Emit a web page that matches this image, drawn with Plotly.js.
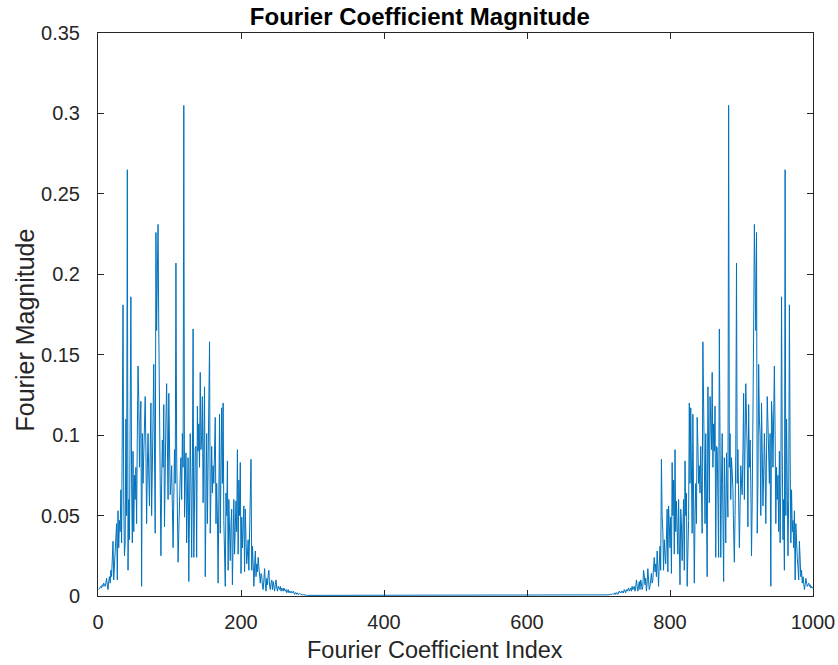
<!DOCTYPE html>
<html>
<head>
<meta charset="utf-8">
<script src="https://cdn.plot.ly/plotly-3.0.1.min.js"></script>
<style>
html,body{margin:0;padding:0;background:#fff;}
#chart{width:838px;height:665px;}
</style>
</head>
<body>
<div id="chart"></div>
<script>
// Magnitudes of the first coefficients (index 1..290)
var leftMag = [
0.004,0.005,0.005,0.006,0.005,0.007,0.006,0.008,0.007,0.006,
0.008,0.011,0.007,0.004,0.009,0.012,0.008,0.016,0.012,0.023,
0.034,0.010,0.018,0.024,0.030,0.045,0.010,0.053,0.030,0.047,
0.040,0.066,0.033,0.090,0.181,0.060,0.025,0.033,0.110,0.050,
0.265,0.016,0.060,0.035,0.090,0.186,0.070,0.033,0.090,0.040,
0.075,0.060,0.080,0.045,0.100,0.143,0.122,0.080,0.110,0.121,
0.006,0.101,0.070,0.085,0.107,0.124,0.090,0.045,0.080,0.101,
0.075,0.056,0.090,0.120,0.050,0.100,0.110,0.144,0.070,0.039,
0.226,0.165,0.200,0.231,0.166,0.097,0.060,0.025,0.070,0.097,
0.080,0.119,0.043,0.090,0.110,0.132,0.104,0.060,0.126,0.090,
0.063,0.070,0.081,0.055,0.030,0.060,0.091,0.070,0.207,0.089,
0.050,0.021,0.040,0.067,0.075,0.086,0.060,0.101,0.080,0.305,
0.049,0.070,0.089,0.033,0.060,0.086,0.009,0.050,0.101,0.070,
0.024,0.080,0.166,0.024,0.060,0.092,0.093,0.024,0.118,0.090,
0.107,0.080,0.139,0.091,0.100,0.124,0.058,0.090,0.130,0.012,
0.070,0.101,0.045,0.080,0.120,0.158,0.039,0.075,0.093,0.064,
0.081,0.070,0.095,0.111,0.045,0.070,0.050,0.008,0.060,0.113,
0.039,0.080,0.117,0.070,0.120,0.047,0.030,0.006,0.064,0.050,
0.084,0.016,0.060,0.040,0.022,0.045,0.054,0.007,0.035,0.060,
0.026,0.045,0.059,0.040,0.091,0.026,0.072,0.050,0.083,0.014,
0.049,0.030,0.045,0.056,0.015,0.054,0.035,0.020,0.026,0.035,
0.016,0.040,0.050,0.085,0.016,0.031,0.020,0.006,0.018,0.028,
0.012,0.020,0.015,0.024,0.018,0.010,0.008,0.014,0.013,0.006,
0.004,0.010,0.017,0.008,0.003,0.011,0.007,0.013,0.016,0.006,
0.004,0.008,0.010,0.004,0.009,0.006,0.003,0.007,0.010,0.005,
0.003,0.006,0.005,0.004,0.006,0.003,0.005,0.004,0.003,0.005,
0.004,0.003,0.004,0.002,0.003,0.004,0.002,0.003,0.002,0.003,
0.002,0.002,0.003,0.002,0.001,0.002,0.002,0.001,0.002,0.001,
0.001,0.0015,0.001,0.001,0.0008,0.001,0.0007,0.0008,0.0006,0.0005
];
// flat level of the middle coefficients (read as ~0)
var midLevel = 0.0004;
var N = 1000;
var xTicks = [0, 200, 400, 600, 800, 1000];
var yTicks = [0, 0.05, 0.1, 0.15, 0.2, 0.25, 0.3, 0.35];
var titleText = 'Fourier Coefficient Magnitude';
var xLabel = 'Fourier Coefficient Index';
var yLabel = 'Fourier Magnitude';

// Full spectrum: left half as read, middle flat, right half is the
// conjugate-symmetric mirror of the left half (|X(k)| = |X(N+2-k)|).
var idx = [], mag = [];
for (var k = 1; k <= N; k++) {
  var v;
  if (k <= leftMag.length) v = leftMag[k - 1];
  else if (N + 2 - k <= leftMag.length) v = leftMag[N + 2 - k - 1];
  else v = midLevel;
  idx.push(k); mag.push(v);
}

var axisColor = '#262626';
var fontFam = 'Liberation Sans, Arial, Helvetica, sans-serif';

Plotly.newPlot('chart', [{
  x: idx, y: mag, type: 'scatter', mode: 'lines',
  line: {color: '#0072BD', width: 1}, hoverinfo: 'skip'
}], {
  width: 838, height: 665,
  margin: {l: 98, r: 25, t: 33, b: 69},
  paper_bgcolor: '#fff', plot_bgcolor: '#fff',
  showlegend: false,
  font: {family: fontFam, color: axisColor, size: 20},
  title: {text: titleText, font: {family: fontFam, size: 24, color: '#000', weight: 'bold'},
          x: 0.501, xanchor: 'center', xref: 'container', y: 0.975, yanchor: 'middle', yref: 'container'},
  xaxis: {
    range: [0, 1000], tickvals: xTicks, ticktext: xTicks.map(String),
    ticks: 'inside', ticklen: 6, tickcolor: axisColor, tickwidth: 1,
    showline: true, linecolor: axisColor, linewidth: 1, mirror: 'ticks',
    showgrid: false, zeroline: false, ticklabelstandoff: 8,
    tickfont: {size: 20, color: axisColor}
  },
  yaxis: {
    range: [0, 0.35], tickvals: yTicks, ticktext: yTicks.map(String),
    ticks: 'inside', ticklen: 6, tickcolor: axisColor, tickwidth: 1,
    showline: true, linecolor: axisColor, linewidth: 1, mirror: 'ticks',
    showgrid: false, zeroline: false, ticklabelstandoff: 13,
    tickfont: {size: 20, color: axisColor}
  },
  annotations: [
    {text: xLabel, xref: 'paper', yref: 'paper', x: 0.472, y: -0.1226,
     xanchor: 'center', yanchor: 'bottom', showarrow: false,
     font: {family: fontFam, size: 23.5, color: axisColor}},
    {text: yLabel, xref: 'paper', yref: 'paper', x: -0.1028, y: 0.4725,
     xanchor: 'center', yanchor: 'middle', showarrow: false, textangle: -90,
     font: {family: fontFam, size: 25, color: axisColor}}
  ]
}, {displayModeBar: false, staticPlot: true});
</script>
</body>
</html>
